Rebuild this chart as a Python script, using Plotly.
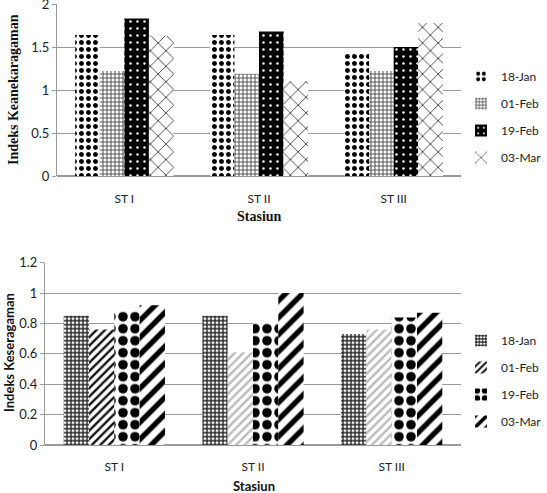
import plotly.graph_objects as go

categories = ["ST I", "ST II", "ST III"]
series_names = ["18-Jan", "01-Feb", "19-Feb", "03-Mar"]

# Indeks Keanekaragaman (top chart)
div_18jan = [1.64, 1.64, 1.43]
div_01feb = [1.22, 1.19, 1.22]
div_19feb = [1.83, 1.68, 1.50]
div_03mar = [1.63, 1.10, 1.78]

# Indeks Keseragaman (bottom chart)
even_18jan = [0.85, 0.85, 0.73]
even_01feb = [0.76, 0.61, 0.76]
even_19feb = [0.88, 0.81, 0.84]
even_03mar = [0.92, 1.00, 0.87]

W, H = 547, 493
def px(x): return x / W
def py(y): return 1 - y / H

TICKFONT = dict(family="Lato, Open Sans, sans-serif", size=12, color="#222")
SERIF = "Liberation Serif, Times New Roman, serif"
SANS = "Lato, Open Sans, sans-serif"

top_patterns = [
    dict(shape=".", fgcolor="black", bgcolor="white", size=7, solidity=0.4, fillmode="replace"),
    dict(shape="+", fgcolor="#555", bgcolor="white", size=4, solidity=0.45, fillmode="replace"),
    dict(shape=".", fgcolor="white", bgcolor="black", size=7, solidity=0.1, fillmode="replace"),
    dict(shape="x", fgcolor="black", bgcolor="white", size=11, solidity=0.12, fillmode="replace"),
]
bot_patterns = [
    dict(shape="+", fgcolor="#222", bgcolor="white", size=4, solidity=0.55, fillmode="replace"),
    dict(shape="/", fgcolor=["#111", "#bbb", "#bbb"], bgcolor="white", size=6, solidity=0.4, fillmode="replace"),
    dict(shape=".", fgcolor="black", bgcolor="white", size=12, solidity=0.5, fillmode="replace"),
    dict(shape="/", fgcolor="black", bgcolor="white", size=12, solidity=0.45, fillmode="replace"),
]

fig = go.Figure()
top_vals = [div_18jan, div_01feb, div_19feb, div_03mar]
bot_vals = [even_18jan, even_01feb, even_19feb, even_03mar]

for i, (name, vals) in enumerate(zip(series_names, top_vals)):
    fig.add_trace(go.Bar(
        x=categories, y=vals, name=name, xaxis="x", yaxis="y",
        marker=dict(color="white", line=dict(width=0), pattern=top_patterns[i]),
        legend="legend", legendgroup="t" + str(i),
    ))
for i, (name, vals) in enumerate(zip(series_names, bot_vals)):
    fig.add_trace(go.Bar(
        x=categories, y=vals, name=name, xaxis="x2", yaxis="y2",
        marker=dict(color="white", line=dict(width=0), pattern=bot_patterns[i]),
        legend="legend2", legendgroup="b" + str(i),
    ))

grid = "#9a9a9a"
clear = "rgba(0,0,0,0)"
fig.update_layout(
    width=W, height=H,
    margin=dict(l=0, r=0, t=0, b=0, autoexpand=False),
    paper_bgcolor="white", plot_bgcolor="white",
    barmode="group", bargap=0.27, bargroupgap=0,
    xaxis=dict(domain=[px(57), px(461)], anchor="y", showgrid=False, tickfont=TICKFONT,
               ticks="outside", ticklen=12, tickcolor=clear, showline=False, automargin=False),
    yaxis=dict(domain=[py(176), py(4)], anchor="x", range=[0, 2],
               tickvals=[0, 0.5, 1, 1.5, 2], ticktext=["0", "0.5", "1", "1.5", "2"],
               showgrid=True, gridcolor=grid, gridwidth=1, zeroline=True, zerolinecolor=grid,
               showline=True, linecolor=grid, ticks="outside", ticklen=4, tickcolor=grid,
               automargin=False, ticklabeloverflow="allow",
               tickfont=dict(family=SANS, size=13, color="#222")),
    xaxis2=dict(domain=[px(45), px(461)], anchor="y2", showgrid=False, tickfont=TICKFONT,
                ticks="outside", ticklen=11, tickcolor=clear, showline=False, automargin=False),
    yaxis2=dict(domain=[py(445), py(262.7)], anchor="x2", range=[0, 1.2],
                tickvals=[0, 0.2, 0.4, 0.6, 0.8, 1.0, 1.2],
                ticktext=["0", "0.2", "0.4", "0.6", "0.8", "1", "1.2"],
                showgrid=True, gridcolor=grid, gridwidth=1, zeroline=True, zerolinecolor=grid,
                showline=True, linecolor=grid, ticks="outside", ticklen=4, tickcolor=grid,
                automargin=False, ticklabeloverflow="allow",
                tickfont=dict(family=SANS, size=13, color="#222")),
    legend=dict(x=px(461), y=py(62), xanchor="left", yanchor="top",
                font=dict(family=SANS, size=12, color="#222"),
                tracegroupgap=8, itemwidth=30, bgcolor="rgba(0,0,0,0)"),
    legend2=dict(x=px(461), y=py(326), xanchor="left", yanchor="top",
                 font=dict(family=SANS, size=12, color="#222"),
                 tracegroupgap=8, itemwidth=30, bgcolor="rgba(0,0,0,0)"),
    annotations=[
        dict(text="<b>Indeks Keanekaragaman</b>", x=px(13), y=py(90), xref="paper", yref="paper",
             xanchor="center", yanchor="middle",
             textangle=-90, showarrow=False, font=dict(family=SERIF, size=14, color="#111")),
        dict(text="<b>Stasiun</b>", x=px(259), y=py(217), xref="paper", yref="paper",
             xanchor="center", yanchor="middle",
             showarrow=False, font=dict(family=SERIF, size=14, color="#111")),
        dict(text="<b>Indeks Keseragaman</b>", x=px(9), y=py(353), xref="paper", yref="paper",
             xanchor="center", yanchor="middle",
             textangle=-90, showarrow=False, font=dict(family=SANS, size=13, color="#111")),
        dict(text="<b>Stasiun</b>", x=px(254), y=py(486), xref="paper", yref="paper",
             xanchor="center", yanchor="middle",
             showarrow=False, font=dict(family=SANS, size=13, color="#111")),
    ],
)

fig.write_html("out.html", config={"displayModeBar": False},
               post_script="document.body.style.margin='0';document.body.style.padding='0';")
